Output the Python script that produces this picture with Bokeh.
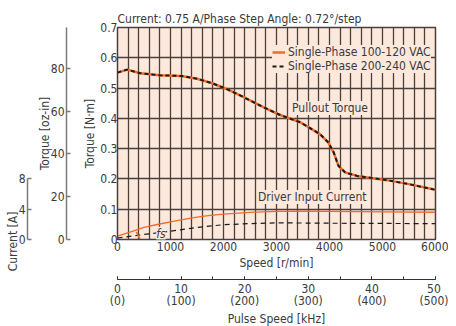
from bokeh.plotting import figure
from bokeh.models import (Range1d, LinearAxis, FixedTicker, SingleIntervalTicker,
                          Label, Legend, LegendItem)
from bokeh.embed import file_html
from bokeh.resources import INLINE

# ---------------- data ----------------
speed_pullout = [0, 180, 430, 800, 1200, 1500, 1800, 2060, 2380, 2750, 3070, 3450,
                 3820, 3980, 4080, 4170, 4300, 4520, 5080, 5520, 6000]
torque_100_120 = [0.551, 0.561, 0.549, 0.542, 0.540, 0.531, 0.515, 0.497, 0.470, 0.437,
                  0.411, 0.387, 0.348, 0.320, 0.287, 0.243, 0.221, 0.210, 0.196, 0.182, 0.164]
torque_200_240 = [0.551, 0.561, 0.549, 0.542, 0.540, 0.531, 0.515, 0.497, 0.470, 0.437,
                  0.411, 0.387, 0.348, 0.320, 0.287, 0.243, 0.221, 0.210, 0.196, 0.182, 0.164]

speed_current_100 = [0, 250, 500, 750, 1000, 1250, 1500, 1750, 2000, 2500, 3000, 3500,
                     4000, 5000, 6000]
current_100_120 = [0.44, 1.0, 1.6, 1.98, 2.33, 2.65, 2.95, 3.18, 3.35, 3.58, 3.72, 3.75,
                   3.72, 3.66, 3.60]
speed_current_200 = [0, 500, 1000, 1500, 2000, 2500, 3000, 4000, 5000, 6000]
current_200_240 = [0.2, 0.66, 1.1, 1.6, 1.95, 2.1, 2.2, 2.15, 2.12, 2.1]

fs_speed = [355, 430]
fs_current = [1.0, 0.0]

nm_ticks = [0, 0.1, 0.2, 0.3, 0.4, 0.5, 0.6, 0.7]
ozin_ticks = [0, 20, 40, 60, 80]
amp_ticks = [0, 4, 8]
speed_ticks = [0, 1000, 2000, 3000, 4000, 5000, 6000]
pulse_ticks = [0, 10, 20, 30, 40, 50]
pulse_labels = ["0\n(0)", "10\n(100)", "20\n(200)", "30\n(300)", "40\n(400)", "50\n(500)"]

NM_MAX = 0.7
SPEED_MAX = 6000
PULSE_MAX = 50
NM_TO_OZIN = 141.612
AMP_PER_NM = 8 / 0.2

# ---------------- styling ----------------
FONT = "'DejaVu Sans Condensed', 'Liberation Sans Narrow', 'Roboto Condensed', 'Liberation Sans', sans-serif"
FS = "12px"
TXT = "#3a3a3a"
PEACH = "#fde9dc"
GRID = "#4a3f3b"
ORANGE = "#f26a2a"
# em spaces after the current-axis title push it down beside the 0-8 A scale
CURRENT_TITLE_PAD = "\u2003" * 20

p = figure(frame_width=318, frame_height=212,
           x_range=Range1d(0, SPEED_MAX), y_range=Range1d(0, NM_MAX),
           output_backend="svg", toolbar_location=None,
           min_border_left=117, min_border_right=13, min_border_top=27,
           min_border_bottom=0)
p.extra_y_ranges = {"oz": Range1d(0, NM_MAX * NM_TO_OZIN),
                    "amp": Range1d(0, NM_MAX * AMP_PER_NM)}
p.extra_x_ranges = {"pulse": Range1d(0, PULSE_MAX)}

p.background_fill_color = PEACH
p.border_fill_color = "white"
p.outline_line_color = GRID
p.outline_line_width = 1.5

p.title.text = "Current: 0.75 A/Phase  Step Angle: 0.72\u00b0/step"
p.title.align = "left"
p.title.text_font = FONT
p.title.text_font_size = FS
p.title.text_font_style = "normal"
p.title.text_color = TXT
p.title.standoff = 3

p.xgrid.ticker = SingleIntervalTicker(interval=200)
p.ygrid.ticker = SingleIntervalTicker(interval=0.1)
for g in (p.xgrid, p.ygrid):
    g.grid_line_color = GRID
    g.grid_line_width = 1.3


def style_axis(ax):
    ax.major_label_text_font = FONT
    ax.major_label_text_font_size = FS
    ax.major_label_text_color = TXT
    ax.axis_label_text_font = FONT
    ax.axis_label_text_font_size = FS
    ax.axis_label_text_font_style = "normal"
    ax.axis_label_text_color = TXT
    ax.minor_tick_line_color = None


def spacer(range_kw, size):
    # an axis with nothing visible, used only to leave a gap between two axes
    s = LinearAxis(ticker=FixedTicker(ticks=[0]), major_tick_out=size, major_tick_in=0,
                   axis_line_color=None, major_tick_line_color=None,
                   major_label_standoff=0, major_label_text_font_size="0px",
                   major_label_overrides={0: ""}, **range_kw)
    s.minor_tick_line_color = None
    return s


# N·m axis
ay = p.yaxis[0]
style_axis(ay)
ay.ticker = FixedTicker(ticks=nm_ticks)
ay.major_label_overrides = {0: "0"}
ay.major_tick_in = 0
ay.major_tick_out = 0
ay.axis_line_color = GRID
ay.major_label_standoff = 0
ay.axis_label = "Torque [N\u00b7m]"
ay.axis_label_standoff = 0

p.add_layout(spacer({"y_range_name": "oz"}, 14), "left")

ao = LinearAxis(y_range_name="oz", ticker=FixedTicker(ticks=ozin_ticks),
                axis_label="Torque [oz-in]")
style_axis(ao)
ao.major_tick_in = 4
ao.major_tick_out = 0
ao.axis_line_color = "#7a7a7a"
ao.axis_line_width = 1.5
ao.major_tick_line_color = "#7a7a7a"
ao.major_tick_line_width = 1.5
ao.major_label_standoff = 2
ao.axis_label_standoff = -4
p.add_layout(ao, "left")

p.add_layout(spacer({"y_range_name": "oz"}, 7), "left")

aa = LinearAxis(y_range_name="amp", ticker=FixedTicker(ticks=amp_ticks), bounds=(0, 8),
                axis_label="Current [A]" + CURRENT_TITLE_PAD)
style_axis(aa)
aa.major_tick_in = 4
aa.major_tick_out = 0
aa.axis_line_color = "#7a7a7a"
aa.axis_line_width = 1.5
aa.major_tick_line_color = "#7a7a7a"
aa.major_tick_line_width = 1.5
aa.major_label_standoff = 2
aa.axis_label_standoff = -4
p.add_layout(aa, "left")

# speed axis
ax = p.xaxis[0]
style_axis(ax)
ax.ticker = FixedTicker(ticks=speed_ticks)
ax.major_tick_in = 0
ax.major_tick_out = 0
ax.axis_line_color = GRID
ax.major_label_standoff = 2
ax.axis_label = "Speed [r/min]"
ax.axis_label_standoff = 2

p.add_layout(spacer({"x_range_name": "pulse"}, 7), "below")

apz = LinearAxis(x_range_name="pulse",
                 ticker=SingleIntervalTicker(interval=10, num_minor_ticks=2),
                 axis_label="Pulse Speed [kHz]")
style_axis(apz)
apz.major_label_overrides = {t: s for t, s in zip(pulse_ticks, pulse_labels)}
apz.major_label_text_line_height = 0.9
apz.major_tick_in = 3
apz.major_tick_out = 0
apz.minor_tick_in = 3
apz.minor_tick_out = 0
apz.minor_tick_line_color = "#333333"
apz.major_tick_line_color = "#333333"
apz.axis_line_color = "#333333"
apz.axis_line_width = 1.2
apz.major_label_standoff = 2
apz.axis_label_standoff = 1
p.add_layout(apz, "below")

# ---------------- curves ----------------
r1 = p.line(speed_pullout, torque_100_120, line_color=ORANGE, line_width=2.5)
r2 = p.line(speed_pullout, torque_200_240, line_color="#1a1a1a", line_width=2,
            line_dash="4 3")
p.line(speed_current_100, current_100_120, y_range_name="amp", line_color=ORANGE,
       line_width=1.3)
p.line(speed_current_200, current_200_240, y_range_name="amp", line_color="#1a1a1a",
       line_width=1.2, line_dash="5 4")
p.line(fs_speed, fs_current, y_range_name="amp", line_color=ORANGE, line_width=1.5)

legend = Legend(items=[LegendItem(label="Single-Phase 100-120 VAC", renderers=[r1]),
                       LegendItem(label="Single-Phase 200-240 VAC", renderers=[r2])],
                location=(155, 166), orientation="vertical")
legend.background_fill_color = PEACH
legend.background_fill_alpha = 1.0
legend.border_line_color = None
legend.label_text_font = FONT
legend.label_text_font_size = FS
legend.label_text_color = TXT
legend.glyph_width = 13
legend.glyph_height = 12
legend.label_height = 12
legend.label_standoff = 3
legend.padding = 1
legend.spacing = 0
legend.margin = 0
p.add_layout(legend)


def add_label(x, y, text, style="normal"):
    lab = Label(x=x, y=y, text=text, text_align="center", text_baseline="middle",
                text_font=FONT, text_font_size=FS, text_color=TXT,
                text_font_style=style, background_fill_color=PEACH)
    p.add_layout(lab)


add_label(4010, 0.434, "Pullout Torque")
add_label(3674, 0.140, "Driver Input Current")
add_label(820, 0.019, "fs", style="italic")

open("out.html", "w").write(file_html(p, INLINE))
